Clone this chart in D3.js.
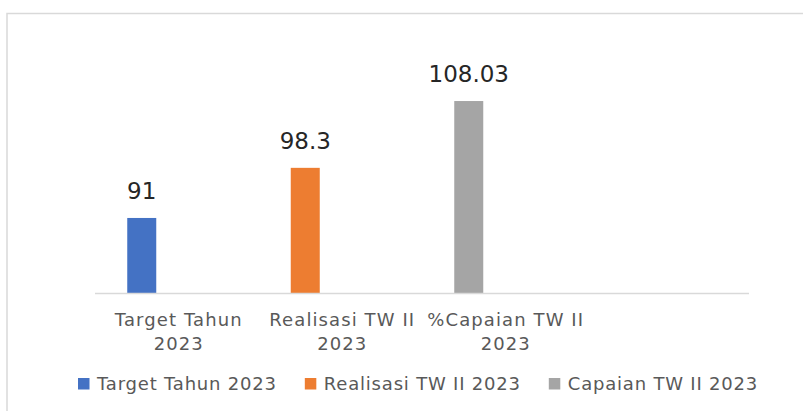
<!DOCTYPE html>
<html>
<head>
<meta charset="utf-8">
<script src="https://cdn.jsdelivr.net/npm/d3@7"></script>
<style>
  body { margin: 0; background: #fff; }
  svg { display: block; }
</style>
</head>
<body>
<div class="chart"></div>
<script>
// data
var categories = ["Target Tahun 2023", "Realisasi TW II 2023", "%Capaian TW II 2023", ""];
var values = [91, 98.3, 108.03];
var seriesNames = ["Target Tahun 2023", "Realisasi TW II 2023", "Capaian TW II 2023"];
var colors = ["#4472C4", "#ED7D31", "#A5A5A5"];
var yDomain = [80, 110];

var w = 803;
var h = 411;
var plot = {left: 95, right: 749, top: 87.5, bottom: 293.5};

var svg = d3.select(".chart")
            .append("svg")
            .attr("width", w)
            .attr("height", h);

// frame (only top and left edges show)
svg.append("rect")
   .attr("x", 7).attr("y", 13.5)
   .attr("width", w + 20).attr("height", h + 20)
   .attr("fill", "#fff")
   .attr("stroke", "#d9d9d9")
   .attr("stroke-width", 1.5);

// scales
var xScale = d3.scaleBand()
   .domain(categories)
   .range([plot.left, plot.right]);

var yScale = d3.scaleLinear()
   .domain(yDomain)
   .range([plot.bottom, plot.top]);

var barW = 29;
var barShift = -35;
function barX(i) {
  return xScale(categories[i]) + xScale.bandwidth() / 2 + barShift - barW / 2;
}

// bars
svg.selectAll("rect.bar")
   .data(values)
   .enter()
   .append("rect")
   .attr("class", "bar")
   .attr("x", (d, i) => barX(i))
   .attr("y", (d) => yScale(d))
   .attr("width", barW)
   .attr("height", (d) => yScale(yDomain[0]) - yScale(d))
   .attr("fill", (d, i) => colors[i]);

// value labels
svg.selectAll("text.val")
   .data(values)
   .enter()
   .append("text")
   .attr("class", "val")
   .attr("x", (d, i) => barX(i) + barW / 2)
   .attr("y", (d) => yScale(d) - 19)
   .attr("text-anchor", "middle")
   .attr("font-family", "DejaVu Sans")
   .attr("font-size", 23)
   .attr("fill", "#262626")
   .text((d) => d);

// x axis
var xAxis = svg.append("g")
   .attr("transform", "translate(0," + plot.bottom + ")")
   .call(d3.axisBottom(xScale).tickSize(0).tickPadding(0));
xAxis.select(".domain")
   .attr("stroke", "#d9d9d9")
   .attr("stroke-width", 1.5)
   .attr("d", "M" + plot.left + ",0H" + plot.right);
xAxis.selectAll(".tick text").remove();
xAxis.selectAll(".tick").each(function(d) {
  if (!d) return;
  var k = d.lastIndexOf(" ");
  var lines = [d.slice(0, k), d.slice(k + 1)];
  var t = d3.select(this).append("text")
     .attr("text-anchor", "middle")
     .attr("font-family", "DejaVu Sans")
     .attr("font-size", 18)
     .attr("letter-spacing", 1.1)
     .attr("fill", "#595959");
  lines.forEach(function(s, j) {
    t.append("tspan").attr("x", 2).attr("y", 32.5 + j * 23.5).text(s);
  });
});

// legend
var legend = svg.append("g").attr("transform", "translate(0,383.5)");
var lx = 78;
seriesNames.forEach(function(name, i) {
  legend.append("rect")
     .attr("x", lx).attr("y", -5.5)
     .attr("width", 11.5).attr("height", 11.5)
     .attr("fill", colors[i]);
  var t = legend.append("text")
     .attr("x", lx + 19).attr("y", 6.5)
     .attr("font-family", "DejaVu Sans")
     .attr("font-size", 18)
     .attr("letter-spacing", 0.8)
     .attr("fill", "#595959")
     .text(name);
  lx += 19 + t.node().getComputedTextLength() + 28;
});
</script>
</body>
</html>
